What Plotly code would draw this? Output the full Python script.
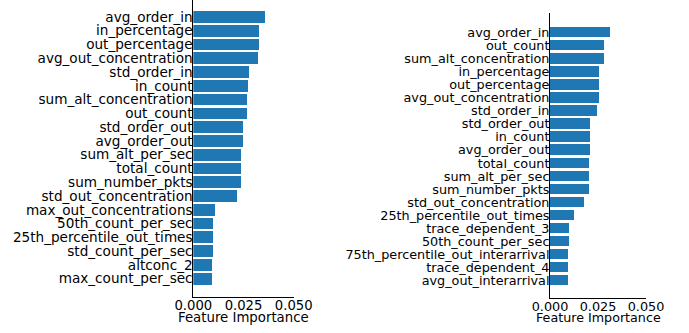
import plotly.graph_objects as go

left_features = ["avg_order_in", "in_percentage", "out_percentage", "avg_out_concentration",
                 "std_order_in", "in_count", "sum_alt_concentration", "out_count",
                 "std_order_out", "avg_order_out", "sum_alt_per_sec", "total_count",
                 "sum_number_pkts", "std_out_concentration", "max_out_concentrations",
                 "50th_count_per_sec", "25th_percentile_out_times", "std_count_per_sec",
                 "altconc_2", "max_count_per_sec"]
left_values = [0.0357, 0.0327, 0.0327, 0.0322, 0.0277, 0.0272, 0.0267, 0.0267,
               0.0247, 0.0247, 0.0238, 0.0238, 0.0238, 0.0218, 0.0108, 0.0098,
               0.0098, 0.0098, 0.0093, 0.0093]

right_features = ["avg_order_in", "out_count", "sum_alt_concentration", "in_percentage",
                  "out_percentage", "avg_out_concentration", "std_order_in", "std_order_out",
                  "in_count", "avg_order_out", "total_count", "sum_alt_per_sec",
                  "sum_number_pkts", "std_out_concentration", "25th_percentile_out_times",
                  "trace_dependent_3", "50th_count_per_sec", "75th_percentile_out_interarrival",
                  "trace_dependent_4", "avg_out_interarrival"]
right_values = [0.0312, 0.0281, 0.0281, 0.0255, 0.0255, 0.0255, 0.0245, 0.0208,
                0.0208, 0.0208, 0.0203, 0.0203, 0.0203, 0.0177, 0.0125, 0.0099,
                0.0099, 0.0094, 0.0094, 0.0094]

x_ticks = [0.0, 0.025, 0.05]
x_title = "Feature Importance"

W, H = 689, 333
BAR = "#1f77b4"
FONT = "DejaVu Sans"

fig = go.Figure()
fig.add_trace(go.Bar(x=left_values, y=left_features, orientation="h", width=0.85,
                     marker=dict(color=BAR, line=dict(width=0)), xaxis="x", yaxis="y"))
fig.add_trace(go.Bar(x=right_values, y=right_features, orientation="h", width=0.8,
                     marker=dict(color=BAR, line=dict(width=0)), xaxis="x2", yaxis="y2"))

def px_x(a, b):
    return [a / W, b / W]

def px_y(top, bottom):
    return [1 - bottom / H, 1 - top / H]

common_x = dict(range=[0, 0.05], tickmode="array", tickvals=x_ticks, tickformat=".3f",
                showgrid=False, zeroline=False, showline=True, linecolor="black",
                linewidth=1, ticks="", automargin=False)
common_y = dict(type="category", showgrid=False, zeroline=False, showline=True,
                linecolor="black", linewidth=1, ticks="", automargin=False,
                ticklabelstandoff=-3)

fig.update_layout(
    width=W, height=H, autosize=False,
    margin=dict(l=0, r=0, t=0, b=0, pad=0),
    paper_bgcolor="white", plot_bgcolor="white",
    showlegend=False, bargap=0,
    font=dict(family=FONT, color="black"),
    xaxis=dict(domain=px_x(193.3, 293.7), anchor="y", tickfont=dict(size=13.2),
               ticklabelstandoff=-4, **common_x),
    yaxis=dict(domain=px_y(0, 296.7), anchor="x", range=[20.31, -1.23],
               categoryorder="array", categoryarray=left_features,
               tickmode="array", tickvals=left_features,
               tickfont=dict(size=13.6), **common_y),
    xaxis2=dict(domain=px_x(550, 646), anchor="y2", tickfont=dict(size=12.8),
                ticklabelstandoff=-4, **common_x),
    yaxis2=dict(domain=px_y(13.3, 298.3), anchor="x2", range=[20.36, -1.47],
                categoryorder="array", categoryarray=right_features,
                tickmode="array", tickvals=right_features,
                tickfont=dict(size=12.8), **common_y),
)

fig.add_annotation(text=x_title, xref="x domain", yref="paper", x=0.5, y=1 - 317.5 / H,
                   xanchor="center", yanchor="middle", showarrow=False,
                   font=dict(size=13.3, family=FONT, color="black"))
fig.add_annotation(text=x_title, xref="x2 domain", yref="paper", x=0.5, y=1 - 317.5 / H,
                   xanchor="center", yanchor="middle", showarrow=False,
                   font=dict(size=12.7, family=FONT, color="black"))

fig.write_html("out.html")
